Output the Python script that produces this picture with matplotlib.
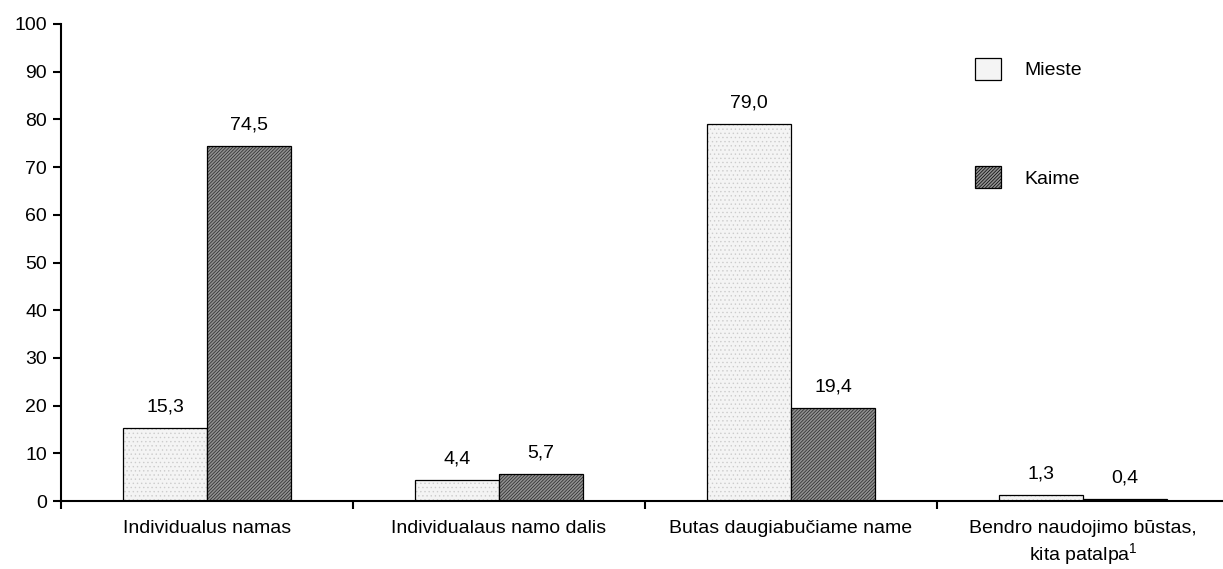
import numpy as np
import matplotlib.pyplot as plt
from matplotlib.patches import Patch

plt.rcParams['font.family'] = ['Liberation Sans', 'DejaVu Sans']
plt.rcParams['mathtext.fontset'] = 'custom'
plt.rcParams['mathtext.rm'] = 'Liberation Sans'
plt.rcParams['hatch.linewidth'] = 0.5

categories = ["Individualus namas", "Individualaus namo dalis",
              "Butas daugiabučiame name", "Bendro naudojimo būstas,\nkita patalpa$^{1}$"]
mieste = [15.3, 4.4, 79.0, 1.3]
kaime = [74.5, 5.7, 19.4, 0.4]
series_names = ["Mieste", "Kaime"]

fig = plt.figure(figsize=(12.23, 5.69), dpi=100)
ax = fig.add_axes([61 / 1223, 1 - 501 / 569, 1 - 61 / 1223, (501 - 24) / 569])

x = np.arange(len(categories))
w = 0.288
fs = 14

# city bars: very light dotted fill
ax.bar(x - w / 2, mieste, w, color="#f4f4f4", edgecolor="#cccccc", hatch="....", linewidth=0)
ax.bar(x - w / 2, mieste, w, fill=False, edgecolor="black", linewidth=0.9)
# village bars: dense diagonal hatch
ax.bar(x + w / 2, kaime, w, color="#909090", edgecolor="#262626", hatch="//////////", linewidth=0)
ax.bar(x + w / 2, kaime, w, fill=False, edgecolor="black", linewidth=0.9)

for xi, v in zip(x - w / 2, mieste):
    ax.annotate(f"{v:.1f}".replace(".", ","), (xi, v), xytext=(0, 9),
                textcoords="offset points", ha="center", va="bottom", fontsize=fs)
for xi, v in zip(x + w / 2, kaime):
    ax.annotate(f"{v:.1f}".replace(".", ","), (xi, v), xytext=(0, 9),
                textcoords="offset points", ha="center", va="bottom", fontsize=fs)

ax.set_xlim(-0.5, -0.5 + 1162 / 292)
ax.set_ylim(0, 100)
ax.set_yticks(range(0, 101, 10))
ax.set_xticks(x)
ax.set_xticklabels(categories, fontsize=fs)
ax.set_xticks([-0.5, 0.5, 1.5, 2.5], minor=True)
ax.tick_params(axis="x", which="major", length=0, pad=14)
ax.tick_params(axis="x", which="minor", length=6, width=1.5, direction="out")
ax.tick_params(axis="y", length=6, width=1.5, labelsize=fs, pad=4)

for s in ["top", "right"]:
    ax.spines[s].set_visible(False)
ax.spines["left"].set_linewidth(1.5)
ax.spines["bottom"].set_linewidth(1.5)

handles = [Patch(facecolor="#f4f4f4", edgecolor="black", linewidth=0.9),
           Patch(facecolor="#909090", edgecolor="black", linewidth=0.9, hatch="//////////")]
ax.legend(handles, series_names, loc="upper left", bbox_to_anchor=(0.7795, 0.945),
          frameon=False, fontsize=fs, handlelength=1.35, handleheight=1.35,
          labelspacing=4.45, handletextpad=1.2, borderaxespad=0)

fig.savefig("out.png", dpi=100)
